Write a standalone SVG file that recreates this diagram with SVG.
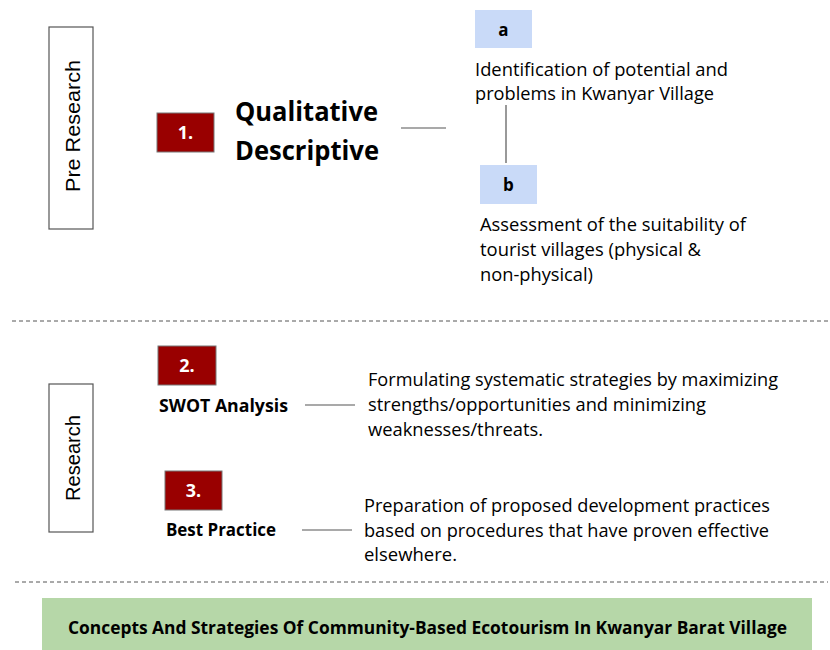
<svg xmlns="http://www.w3.org/2000/svg" width="830" height="650" viewBox="0 0 830 650">
<style>
.side{fill:#fff;stroke:#555;stroke-width:1.2}
.sidet{font-family:"Liberation Sans",Arial,sans-serif;font-size:20px;fill:#000}
.num{fill:#990000;stroke:#777;stroke-width:1}
.numt{font-family:"Open Sans","Noto Sans",sans-serif;font-weight:bold;font-size:18px;fill:#fff}
.let{fill:#c9daf8}
.lett{font-family:"Open Sans","Noto Sans",sans-serif;font-weight:bold;font-size:17px;fill:#000}
.big{font-family:"Open Sans","Noto Sans",sans-serif;font-weight:bold;font-size:26px;fill:#000}
.lab{font-family:"Open Sans","Noto Sans",sans-serif;font-weight:bold;font-size:17.5px;fill:#000}
.txt{font-family:"Open Sans","Noto Sans",sans-serif;font-size:17.5px;fill:#000}
.txl{font-family:"Open Sans","Noto Sans",sans-serif;font-size:18.5px;fill:#000}
.con{stroke:#555;stroke-width:1.2;fill:none}
.dash{stroke:#555;stroke-width:1;stroke-dasharray:4,3;fill:none}
</style>
<rect width="830" height="650" fill="#fff"/>
<g id="connectors">
<line class="con" x1="401" y1="128" x2="446" y2="128"/>
<line class="con" x1="506" y1="105" x2="506" y2="163"/>
<line class="con" x1="305" y1="405" x2="355" y2="405"/>
<line class="con" x1="302" y1="530" x2="352" y2="530"/>
<line class="dash" x1="12" y1="321" x2="828" y2="321"/>
<line class="dash" x1="15" y1="582" x2="828" y2="582"/>
</g>
<g id="pre-research">
<rect class="side" x="49" y="27" width="44" height="202"/>
<text class="sidet" transform="translate(80,126) rotate(-90)" text-anchor="middle" textLength="132" lengthAdjust="spacingAndGlyphs">Pre Research</text>
</g>
<g id="research">
<rect class="side" x="49" y="384" width="44" height="148"/>
<text class="sidet" transform="translate(80,458) rotate(-90)" text-anchor="middle" textLength="86" lengthAdjust="spacingAndGlyphs">Research</text>
</g>
<g id="step1">
<rect class="num" x="157" y="113" width="57" height="39"/>
<text class="numt" x="185.5" y="139" text-anchor="middle">1.</text>
<text class="big" x="235" y="121" textLength="143" lengthAdjust="spacingAndGlyphs">Qualitative</text>
<text class="big" x="235" y="160" textLength="144" lengthAdjust="spacingAndGlyphs">Descriptive</text>
</g>
<g id="node-a">
<rect class="let" x="475" y="10" width="57" height="38"/>
<text class="lett" x="503.5" y="36" text-anchor="middle">a</text>
<text class="txt" x="475" y="76" textLength="253" lengthAdjust="spacingAndGlyphs">Identification of potential and</text>
<text class="txt" x="475" y="100" textLength="239" lengthAdjust="spacingAndGlyphs">problems in Kwanyar Village</text>
</g>
<g id="node-b">
<rect class="let" x="480" y="165" width="57" height="39"/>
<text class="lett" x="508.5" y="191" text-anchor="middle">b</text>
<text class="txt" x="480" y="231" textLength="266" lengthAdjust="spacingAndGlyphs">Assessment of the suitability of</text>
<text class="txt" x="480" y="256" textLength="221" lengthAdjust="spacingAndGlyphs">tourist villages (physical &amp;</text>
<text class="txt" x="480" y="281" textLength="113" lengthAdjust="spacingAndGlyphs">non-physical)</text>
</g>
<g id="step2">
<rect class="num" x="158" y="346" width="58" height="39"/>
<text class="numt" x="187" y="372" text-anchor="middle">2.</text>
<text class="lab" x="159" y="412" textLength="129" lengthAdjust="spacingAndGlyphs">SWOT Analysis</text>
<text class="txl" x="368" y="386" textLength="410" lengthAdjust="spacingAndGlyphs">Formulating systematic strategies by maximizing</text>
<text class="txl" x="368" y="411" textLength="338" lengthAdjust="spacingAndGlyphs">strengths/opportunities and minimizing</text>
<text class="txl" x="368" y="436" textLength="175" lengthAdjust="spacingAndGlyphs">weaknesses/threats.</text>
</g>
<g id="step3">
<rect class="num" x="165" y="471" width="57" height="39"/>
<text class="numt" x="193.5" y="497" text-anchor="middle">3.</text>
<text class="lab" x="166" y="536" textLength="110" lengthAdjust="spacingAndGlyphs">Best Practice</text>
<text class="txl" x="364" y="512" textLength="406" lengthAdjust="spacingAndGlyphs">Preparation of proposed development practices</text>
<text class="txl" x="364" y="537" textLength="405" lengthAdjust="spacingAndGlyphs">based on procedures that have proven effective</text>
<text class="txl" x="364" y="561" textLength="93" lengthAdjust="spacingAndGlyphs">elsewhere.</text>
</g>
<g id="result">
<rect x="42" y="598" width="770" height="52" fill="#b6d7a8"/>
<text class="lab" x="68" y="634" textLength="719" lengthAdjust="spacingAndGlyphs">Concepts And Strategies Of Community-Based Ecotourism In Kwanyar Barat Village</text>
</g>
</svg>
